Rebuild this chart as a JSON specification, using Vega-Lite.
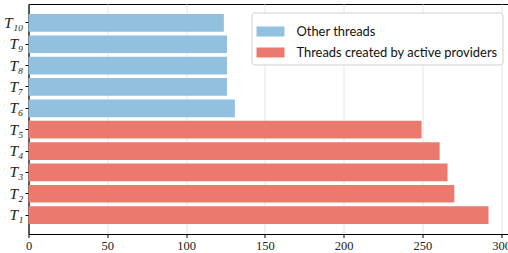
{
  "$schema": "https://vega.github.io/schema/vega-lite/v6.json",
  "autosize": "none",
  "padding": {"left": 28.5, "top": 4, "right": 0, "bottom": 19},
  "width": 480,
  "height": 230,
  "data": {
    "values": [
      {"thread": "T₁₀", "count": 124, "group": "Other threads"},
      {"thread": "T₉", "count": 126, "group": "Other threads"},
      {"thread": "T₈", "count": 126, "group": "Other threads"},
      {"thread": "T₇", "count": 126, "group": "Other threads"},
      {"thread": "T₆", "count": 131, "group": "Other threads"},
      {"thread": "T₅", "count": 249.5, "group": "Threads created by active providers"},
      {"thread": "T₄", "count": 261, "group": "Threads created by active providers"},
      {"thread": "T₃", "count": 266, "group": "Threads created by active providers"},
      {"thread": "T₂", "count": 270.3, "group": "Threads created by active providers"},
      {"thread": "T₁", "count": 292, "group": "Threads created by active providers"}
    ]
  },
  "mark": {"type": "bar", "opacity": 1},
  "encoding": {
    "y": {
      "field": "thread",
      "type": "nominal",
      "sort": ["T₁₀", "T₉", "T₈", "T₇", "T₆", "T₅", "T₄", "T₃", "T₂", "T₁"],
      "scale": {"paddingInner": 0.17, "paddingOuter": 0.47},
      "axis": {
        "title": null,
        "labelFont": "Liberation Serif",
        "labelFontStyle": "italic",
        "labelFontSize": 15.5,
        "labelColor": "#222222",
        "labelPadding": 2,
        "tickSize": 3.5,
        "tickColor": "black",
        "domainColor": "black",
        "grid": false
      }
    },
    "x": {
      "field": "count",
      "type": "quantitative",
      "scale": {"domain": [0, 304.7], "nice": false, "zero": true},
      "axis": {
        "title": null,
        "values": [0, 50, 100, 150, 200, 250, 300],
        "labelFont": "Liberation Serif",
        "labelFontSize": 12.5,
        "labelColor": "#222222",
        "labelPadding": 2,
        "labelFlush": false,
        "labelOverlap": false,
        "tickSize": 3.5,
        "tickColor": "black",
        "domainColor": "black",
        "grid": true,
        "gridColor": "#e6e6e6",
        "gridWidth": 1
      }
    },
    "color": {
      "field": "group",
      "type": "nominal",
      "scale": {
        "domain": ["Other threads", "Threads created by active providers"],
        "range": ["#92c1df", "#ec796d"]
      },
      "legend": {
        "title": null,
        "orient": "none",
        "legendX": 223,
        "legendY": 8.5,
        "fillColor": "white",
        "strokeColor": "#d0d0d0",
        "cornerRadius": 3,
        "padding": 5,
        "symbolType": "M-1,-0.357H1V0.357H-1Z",
        "symbolSize": 784,
        "symbolStrokeWidth": 0,
        "symbolOpacity": 1,
        "labelFont": "Lato",
        "labelFontSize": 12.9,
        "labelLimit": 0,
        "labelColor": "#111111",
        "labelOffset": 12,
        "rowPadding": -8
      }
    }
  },
  "config": {
    "view": {"stroke": "black", "strokeWidth": 1},
    "axis": {"domainWidth": 1, "tickWidth": 1}
  }
}
